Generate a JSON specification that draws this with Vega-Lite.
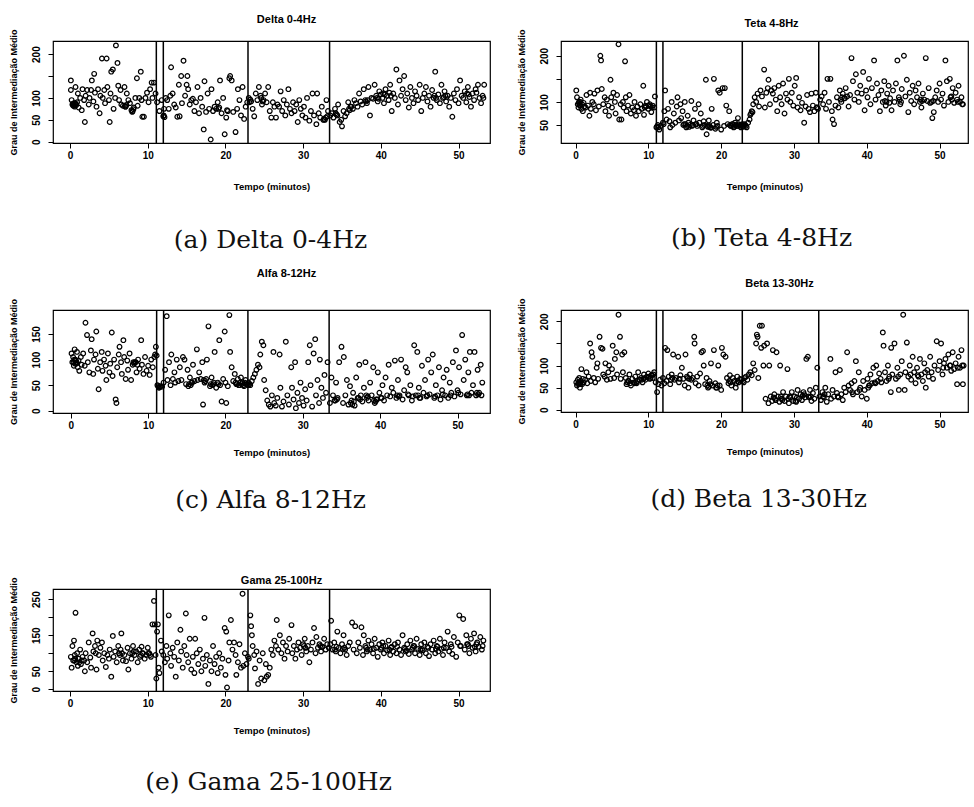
{
  "$schema": "https://vega.github.io/schema/vega-lite/v6.json",
  "background": "white",
  "padding": {"left": 8, "top": 13, "right": 0, "bottom": 0},
  "config": {
    "view": {"stroke": "black", "strokeWidth": 1.2},
    "axis": {"domain": false, "grid": false, "tickColor": "black", "tickSize": 5, "tickWidth": 1, "labelFont": "Liberation Sans", "labelFontSize": 10, "labelFontWeight": "bold", "labelColor": "black", "labelPadding": 2, "labelOverlap": false, "titleFont": "Liberation Sans", "titleFontSize": 9.5, "titleFontWeight": "bold", "titleColor": "black"},
    "axisY": {"labelAngle": -90, "labelPadding": 7, "titlePadding": 13, "titleFontSize": 9},
    "point": {"filled": false, "size": 22, "strokeWidth": 1.2, "color": "black", "opacity": 1},
    "rule": {"color": "black", "strokeWidth": 1.5}
  },
  "datasets": {
    "cuts": [{"t": 11.1}, {"t": 12.0}, {"t": 22.9}, {"t": 33.4}],
    "a": [
      {"t":0.1,"v":140},{"t":0.1,"v":118},{"t":0.2,"v":95},{"t":0.3,"v":85},{"t":0.4,"v":82},{"t":0.5,"v":88},{"t":0.6,"v":80},{"t":0.7,"v":125},{"t":0.8,"v":84},{"t":0.9,"v":90},{"t":1.0,"v":110},{"t":1.1,"v":78},{"t":1.3,"v":100},{"t":1.5,"v":72},{"t":1.6,"v":120},{"t":1.8,"v":95},{"t":1.9,"v":45},{"t":2.0,"v":105},{"t":2.2,"v":118},{"t":2.4,"v":85},{"t":2.5,"v":100},{"t":2.7,"v":118},{"t":2.8,"v":140},{"t":3.0,"v":92},{"t":3.1,"v":155},{"t":3.2,"v":112},{"t":3.4,"v":80},{"t":3.6,"v":120},{"t":3.8,"v":65},{"t":3.9,"v":105},{"t":4.1,"v":190},{"t":4.2,"v":100},{"t":4.4,"v":118},{"t":4.5,"v":88},{"t":4.7,"v":190},{"t":4.8,"v":125},{"t":5.0,"v":95},{"t":5.1,"v":45},{"t":5.2,"v":110},{"t":5.3,"v":160},{"t":5.5,"v":165},{"t":5.6,"v":75},{"t":5.8,"v":100},{"t":5.9,"v":220},{"t":6.1,"v":180},{"t":6.2,"v":128},{"t":6.3,"v":95},{"t":6.5,"v":118},{"t":6.6,"v":85},{"t":6.8,"v":82},{"t":7.0,"v":125},{"t":7.1,"v":80},{"t":7.3,"v":110},{"t":7.5,"v":95},{"t":7.7,"v":88},{"t":7.9,"v":72},{"t":8.0,"v":68},{"t":8.2,"v":78},{"t":8.4,"v":100},{"t":8.6,"v":145},{"t":8.7,"v":82},{"t":8.9,"v":100},{"t":9.1,"v":160},{"t":9.2,"v":95},{"t":9.3,"v":57},{"t":9.5,"v":57},{"t":9.7,"v":100},{"t":9.9,"v":112},{"t":10.1,"v":90},{"t":10.3,"v":120},{"t":10.5,"v":135},{"t":10.6,"v":100},{"t":10.8,"v":135},{"t":11.0,"v":110},{"t":11.2,"v":90},{"t":11.5,"v":70},{"t":11.8,"v":95},
      {"t":12.0,"v":58},{"t":12.1,"v":75},{"t":12.3,"v":100},{"t":12.5,"v":95},{"t":12.7,"v":75},{"t":12.9,"v":105},{"t":13.0,"v":170},{"t":13.2,"v":110},{"t":13.4,"v":85},{"t":13.6,"v":78},{"t":13.8,"v":57},{"t":14.0,"v":130},{"t":14.1,"v":58},{"t":14.3,"v":150},{"t":14.4,"v":88},{"t":14.6,"v":185},{"t":14.8,"v":105},{"t":15.0,"v":130},{"t":15.1,"v":150},{"t":15.2,"v":120},{"t":15.4,"v":85},{"t":15.6,"v":95},{"t":15.8,"v":98},{"t":16.0,"v":70},{"t":16.2,"v":90},{"t":16.4,"v":125},{"t":16.6,"v":65},{"t":16.8,"v":100},{"t":17.0,"v":80},{"t":17.2,"v":28},{"t":17.3,"v":138},{"t":17.5,"v":68},{"t":17.7,"v":110},{"t":17.9,"v":75},{"t":18.1,"v":5},{"t":18.2,"v":120},{"t":18.4,"v":70},{"t":18.6,"v":80},{"t":18.8,"v":75},{"t":19.0,"v":90},{"t":19.3,"v":140},{"t":19.5,"v":65},{"t":19.7,"v":100},{"t":19.9,"v":17},{"t":20.1,"v":55},{"t":20.3,"v":70},{"t":20.5,"v":145},{"t":20.6,"v":150},{"t":20.8,"v":140},{"t":21.0,"v":68},{"t":21.3,"v":22},{"t":21.5,"v":75},{"t":21.6,"v":120},{"t":21.8,"v":95},{"t":22.0,"v":60},{"t":22.2,"v":125},{"t":22.4,"v":52},{"t":22.6,"v":80},{"t":22.8,"v":90},
      {"t":23.0,"v":100},{"t":23.3,"v":92},{"t":23.5,"v":75},{"t":23.7,"v":58},{"t":23.9,"v":110},{"t":24.1,"v":95},{"t":24.3,"v":125},{"t":24.5,"v":105},{"t":24.7,"v":85},{"t":24.9,"v":95},{"t":25.1,"v":110},{"t":25.3,"v":90},{"t":25.5,"v":125},{"t":25.7,"v":70},{"t":25.9,"v":55},{"t":26.1,"v":90},{"t":26.3,"v":80},{"t":26.5,"v":55},{"t":26.7,"v":85},{"t":26.9,"v":80},{"t":27.1,"v":115},{"t":27.3,"v":70},{"t":27.5,"v":95},{"t":27.7,"v":60},{"t":27.9,"v":85},{"t":28.1,"v":120},{"t":28.3,"v":75},{"t":28.5,"v":65},{"t":28.7,"v":90},{"t":28.9,"v":70},{"t":29.1,"v":85},{"t":29.3,"v":45},{"t":29.5,"v":95},{"t":29.7,"v":75},{"t":29.9,"v":60},{"t":30.1,"v":80},{"t":30.3,"v":55},{"t":30.5,"v":100},{"t":30.8,"v":48},{"t":31.0,"v":70},{"t":31.2,"v":110},{"t":31.4,"v":60},{"t":31.7,"v":40},{"t":31.8,"v":110},{"t":32.0,"v":65},{"t":32.2,"v":55},{"t":32.4,"v":80},{"t":32.6,"v":50},{"t":32.8,"v":50},{"t":33.0,"v":95},{"t":33.2,"v":70},
      {"t":33.5,"v":60},{"t":33.7,"v":65},{"t":33.9,"v":55},{"t":34.1,"v":75},{"t":34.3,"v":62},{"t":34.5,"v":85},{"t":34.7,"v":45},{"t":34.9,"v":50},{"t":35.0,"v":35},{"t":35.2,"v":70},{"t":35.4,"v":58},{"t":35.6,"v":65},{"t":35.8,"v":90},{"t":36.0,"v":72},{"t":36.2,"v":80},{"t":36.4,"v":75},{"t":36.6,"v":95},{"t":36.8,"v":88},{"t":37.0,"v":80},{"t":37.2,"v":110},{"t":37.4,"v":92},{"t":37.6,"v":85},{"t":37.8,"v":120},{"t":38.0,"v":95},{"t":38.2,"v":88},{"t":38.4,"v":125},{"t":38.6,"v":60},{"t":38.8,"v":100},{"t":39.0,"v":98},{"t":39.2,"v":130},{"t":39.4,"v":105},{"t":39.6,"v":92},{"t":39.8,"v":115},{"t":40.0,"v":108},{"t":40.2,"v":100},{"t":40.4,"v":88},{"t":40.6,"v":120},{"t":40.8,"v":105},{"t":41.0,"v":95},{"t":41.2,"v":130},{"t":41.4,"v":70},{"t":41.6,"v":110},{"t":41.8,"v":100},{"t":42.0,"v":165},{"t":42.2,"v":85},{"t":42.4,"v":140},{"t":42.6,"v":105},{"t":42.8,"v":120},{"t":43.0,"v":150},{"t":43.2,"v":95},{"t":43.4,"v":110},{"t":43.6,"v":78},{"t":43.8,"v":125},{"t":44.0,"v":100},{"t":44.2,"v":88},{"t":44.4,"v":115},{"t":44.6,"v":105},{"t":44.8,"v":95},{"t":45.0,"v":130},{"t":45.2,"v":70},{"t":45.4,"v":100},{"t":45.6,"v":110},{"t":45.8,"v":125},{"t":46.0,"v":92},{"t":46.2,"v":105},{"t":46.4,"v":80},{"t":46.6,"v":118},{"t":46.8,"v":100},{"t":47.0,"v":160},{"t":47.2,"v":95},{"t":47.4,"v":108},{"t":47.6,"v":88},{"t":47.8,"v":130},{"t":48.0,"v":100},{"t":48.2,"v":115},{"t":48.4,"v":92},{"t":48.6,"v":105},{"t":48.8,"v":80},{"t":49.0,"v":100},{"t":49.2,"v":57},{"t":49.4,"v":110},{"t":49.6,"v":95},{"t":49.8,"v":120},{"t":50.0,"v":88},{"t":50.2,"v":140},{"t":50.4,"v":105},{"t":50.6,"v":100},{"t":50.8,"v":115},{"t":51.0,"v":90},{"t":51.2,"v":125},{"t":51.4,"v":102},{"t":51.6,"v":80},{"t":51.8,"v":110},{"t":52.0,"v":95},{"t":52.2,"v":120},{"t":52.5,"v":130},{"t":52.7,"v":100},{"t":52.9,"v":88},{"t":53.1,"v":105},{"t":53.3,"v":130},
      {"t":0.35,"v":86},{"t":0.45,"v":84},{"t":0.55,"v":82},{"t":0.65,"v":88},{"t":0.75,"v":86},{"t":7.05,"v":82},{"t":7.15,"v":80},{"t":7.25,"v":84},{"t":8.05,"v":70},{"t":8.15,"v":74},{"t":12.05,"v":60},{"t":12.15,"v":56},{"t":19.1,"v":75},{"t":19.2,"v":78},{"t":20.2,"v":72},{"t":23.1,"v":90},{"t":23.2,"v":96},{"t":24.6,"v":100},{"t":24.8,"v":92},{"t":32.7,"v":52},{"t":32.9,"v":55},{"t":33.1,"v":58},{"t":34.2,"v":65},{"t":34.4,"v":60},{"t":35.9,"v":75},{"t":36.1,"v":80},{"t":38.1,"v":92},{"t":38.3,"v":95},{"t":39.5,"v":100},{"t":39.7,"v":98},{"t":40.3,"v":110},{"t":40.5,"v":108},{"t":41.1,"v":112},{"t":41.3,"v":105},{"t":46.9,"v":105},{"t":47.1,"v":100},{"t":48.1,"v":102},{"t":48.3,"v":105},{"t":51.1,"v":110},{"t":51.3,"v":108},{"t":52.3,"v":112},{"t":53.2,"v":100}
    ],
    "b": [
      {"t":0.1,"v":125},{"t":0.2,"v":110},{"t":0.3,"v":95},{"t":0.4,"v":88},{"t":0.5,"v":100},{"t":0.6,"v":92},{"t":0.7,"v":105},{"t":0.8,"v":85},{"t":0.9,"v":95},{"t":1.0,"v":80},{"t":1.1,"v":98},{"t":1.2,"v":90},{"t":1.4,"v":88},{"t":1.5,"v":115},{"t":1.7,"v":92},{"t":1.9,"v":70},{"t":2.0,"v":120},{"t":2.1,"v":85},{"t":2.3,"v":100},{"t":2.5,"v":95},{"t":2.6,"v":118},{"t":2.8,"v":82},{"t":3.0,"v":125},{"t":3.2,"v":90},{"t":3.4,"v":200},{"t":3.5,"v":190},{"t":3.6,"v":128},{"t":3.8,"v":95},{"t":4.0,"v":110},{"t":4.1,"v":80},{"t":4.3,"v":105},{"t":4.5,"v":92},{"t":4.6,"v":70},{"t":4.8,"v":148},{"t":4.9,"v":110},{"t":5.0,"v":88},{"t":5.2,"v":120},{"t":5.4,"v":100},{"t":5.5,"v":75},{"t":5.7,"v":115},{"t":5.9,"v":225},{"t":6.0,"v":62},{"t":6.2,"v":95},{"t":6.3,"v":62},{"t":6.5,"v":100},{"t":6.6,"v":88},{"t":6.8,"v":188},{"t":6.9,"v":110},{"t":7.0,"v":80},{"t":7.2,"v":92},{"t":7.4,"v":115},{"t":7.6,"v":75},{"t":7.8,"v":88},{"t":8.0,"v":82},{"t":8.1,"v":100},{"t":8.3,"v":70},{"t":8.5,"v":90},{"t":8.7,"v":80},{"t":8.9,"v":95},{"t":9.1,"v":85},{"t":9.3,"v":135},{"t":9.4,"v":72},{"t":9.6,"v":92},{"t":9.8,"v":100},{"t":10.0,"v":85},{"t":10.2,"v":95},{"t":10.4,"v":78},{"t":10.6,"v":92},{"t":10.8,"v":88},{"t":10.9,"v":112},
      {"t":11.1,"v":45},{"t":11.3,"v":50},{"t":11.5,"v":40},{"t":11.7,"v":48},
      {"t":12.0,"v":55},{"t":12.2,"v":80},{"t":12.3,"v":125},{"t":12.5,"v":62},{"t":12.7,"v":85},{"t":12.9,"v":58},{"t":13.0,"v":45},{"t":13.2,"v":100},{"t":13.3,"v":50},{"t":13.5,"v":75},{"t":13.7,"v":55},{"t":13.9,"v":90},{"t":14.0,"v":110},{"t":14.2,"v":60},{"t":14.4,"v":95},{"t":14.5,"v":65},{"t":14.7,"v":80},{"t":14.9,"v":52},{"t":15.0,"v":100},{"t":15.2,"v":45},{"t":15.4,"v":70},{"t":15.5,"v":55},{"t":15.7,"v":50},{"t":15.9,"v":102},{"t":16.0,"v":48},{"t":16.2,"v":60},{"t":16.4,"v":85},{"t":16.5,"v":52},{"t":16.7,"v":48},{"t":16.9,"v":95},{"t":17.0,"v":55},{"t":17.2,"v":75},{"t":17.4,"v":45},{"t":17.6,"v":58},{"t":17.9,"v":148},{"t":18.0,"v":30},{"t":18.1,"v":48},{"t":18.3,"v":60},{"t":18.5,"v":45},{"t":18.7,"v":85},{"t":18.9,"v":50},{"t":19.0,"v":150},{"t":19.2,"v":42},{"t":19.4,"v":55},{"t":19.6,"v":125},{"t":19.8,"v":120},{"t":20.0,"v":40},{"t":20.2,"v":130},{"t":20.4,"v":48},{"t":20.5,"v":130},{"t":20.7,"v":92},{"t":20.9,"v":52},{"t":21.1,"v":80},{"t":21.3,"v":48},{"t":21.5,"v":52},{"t":21.7,"v":45},{"t":21.9,"v":55},{"t":22.1,"v":48},{"t":22.3,"v":65},{"t":22.5,"v":50},{"t":22.7,"v":45},{"t":22.9,"v":52},
      {"t":23.1,"v":48},{"t":23.3,"v":50},{"t":23.5,"v":45},{"t":23.7,"v":55},{"t":23.9,"v":62},{"t":24.0,"v":72},{"t":24.2,"v":80},{"t":24.4,"v":95},{"t":24.6,"v":110},{"t":24.8,"v":100},{"t":25.0,"v":118},{"t":25.2,"v":90},{"t":25.4,"v":125},{"t":25.6,"v":112},{"t":25.9,"v":170},{"t":26.0,"v":88},{"t":26.2,"v":120},{"t":26.4,"v":130},{"t":26.5,"v":148},{"t":26.7,"v":95},{"t":26.9,"v":125},{"t":27.1,"v":118},{"t":27.3,"v":130},{"t":27.5,"v":105},{"t":27.7,"v":80},{"t":27.9,"v":135},{"t":28.1,"v":110},{"t":28.3,"v":95},{"t":28.5,"v":140},{"t":28.7,"v":75},{"t":28.9,"v":118},{"t":29.1,"v":105},{"t":29.3,"v":150},{"t":29.5,"v":100},{"t":29.7,"v":120},{"t":29.9,"v":92},{"t":30.1,"v":135},{"t":30.3,"v":152},{"t":30.5,"v":88},{"t":30.7,"v":110},{"t":30.9,"v":82},{"t":31.1,"v":98},{"t":31.4,"v":55},{"t":31.6,"v":90},{"t":31.8,"v":115},{"t":32.0,"v":85},{"t":32.2,"v":78},{"t":32.4,"v":118},{"t":32.6,"v":92},{"t":32.8,"v":80},{"t":33.0,"v":120},{"t":33.2,"v":88},
      {"t":33.6,"v":105},{"t":33.8,"v":112},{"t":34.0,"v":95},{"t":34.2,"v":120},{"t":34.4,"v":85},{"t":34.6,"v":150},{"t":34.8,"v":100},{"t":35.0,"v":150},{"t":35.2,"v":80},{"t":35.3,"v":62},{"t":35.5,"v":52},{"t":35.7,"v":92},{"t":35.9,"v":110},{"t":36.1,"v":88},{"t":36.3,"v":125},{"t":36.5,"v":100},{"t":36.7,"v":118},{"t":36.9,"v":108},{"t":37.1,"v":130},{"t":37.3,"v":112},{"t":37.5,"v":90},{"t":37.7,"v":115},{"t":37.9,"v":195},{"t":38.1,"v":145},{"t":38.3,"v":105},{"t":38.5,"v":160},{"t":38.7,"v":120},{"t":38.9,"v":100},{"t":39.1,"v":135},{"t":39.3,"v":118},{"t":39.5,"v":165},{"t":39.7,"v":82},{"t":39.9,"v":125},{"t":40.1,"v":110},{"t":40.3,"v":150},{"t":40.5,"v":95},{"t":40.7,"v":130},{"t":41.0,"v":190},{"t":41.2,"v":105},{"t":41.4,"v":140},{"t":41.6,"v":115},{"t":41.8,"v":80},{"t":42.0,"v":125},{"t":42.2,"v":100},{"t":42.4,"v":145},{"t":42.6,"v":92},{"t":42.8,"v":118},{"t":43.0,"v":135},{"t":43.2,"v":108},{"t":43.4,"v":82},{"t":43.6,"v":125},{"t":43.8,"v":100},{"t":44.0,"v":140},{"t":44.2,"v":190},{"t":44.4,"v":110},{"t":44.6,"v":95},{"t":44.8,"v":128},{"t":45.1,"v":200},{"t":45.3,"v":112},{"t":45.5,"v":148},{"t":45.7,"v":78},{"t":45.9,"v":120},{"t":46.1,"v":102},{"t":46.3,"v":135},{"t":46.5,"v":95},{"t":46.7,"v":125},{"t":46.9,"v":110},{"t":47.1,"v":140},{"t":47.3,"v":100},{"t":47.5,"v":88},{"t":47.7,"v":118},{"t":47.9,"v":105},{"t":48.1,"v":195},{"t":48.3,"v":102},{"t":48.5,"v":130},{"t":48.7,"v":98},{"t":49.0,"v":65},{"t":49.2,"v":78},{"t":49.4,"v":110},{"t":49.6,"v":125},{"t":49.8,"v":100},{"t":50.0,"v":140},{"t":50.2,"v":105},{"t":50.4,"v":118},{"t":50.6,"v":92},{"t":50.8,"v":190},{"t":51.0,"v":145},{"t":51.2,"v":100},{"t":51.4,"v":150},{"t":51.6,"v":112},{"t":51.8,"v":130},{"t":52.0,"v":98},{"t":52.2,"v":120},{"t":52.4,"v":105},{"t":52.6,"v":135},{"t":52.8,"v":100},{"t":53.0,"v":110},{"t":53.2,"v":95},
      {"t":0.45,"v":98},{"t":0.55,"v":94},{"t":0.65,"v":100},{"t":9.5,"v":88},{"t":9.7,"v":90},{"t":10.1,"v":92},{"t":10.3,"v":90},{"t":10.5,"v":88},{"t":11.2,"v":47},{"t":11.4,"v":45},{"t":12.1,"v":52},{"t":14.8,"v":50},{"t":15.1,"v":52},{"t":15.3,"v":48},{"t":15.6,"v":46},{"t":16.1,"v":50},{"t":16.6,"v":52},{"t":17.5,"v":48},{"t":17.7,"v":50},{"t":18.2,"v":46},{"t":18.4,"v":48},{"t":18.6,"v":44},{"t":19.3,"v":46},{"t":19.5,"v":48},{"t":21.2,"v":50},{"t":21.4,"v":48},{"t":21.6,"v":52},{"t":21.8,"v":46},{"t":22.0,"v":50},{"t":22.2,"v":48},{"t":22.4,"v":52},{"t":22.6,"v":48},{"t":22.8,"v":50},{"t":23.0,"v":46},{"t":23.2,"v":52},{"t":23.4,"v":48},{"t":24.1,"v":75},{"t":24.3,"v":78},{"t":33.1,"v":88},{"t":33.3,"v":85},{"t":36.4,"v":105},{"t":36.6,"v":110},{"t":37.0,"v":108},{"t":42.5,"v":102},{"t":42.7,"v":100},{"t":43.1,"v":98},{"t":44.5,"v":105},{"t":44.7,"v":100},{"t":47.4,"v":105},{"t":47.6,"v":102},{"t":48.9,"v":100},{"t":49.1,"v":102},{"t":51.5,"v":110},{"t":51.7,"v":105},{"t":52.5,"v":100},{"t":53.1,"v":95}
    ],
    "c": [
      {"t":0.1,"v":112},{"t":0.2,"v":95},{"t":0.3,"v":105},{"t":0.4,"v":88},{"t":0.5,"v":120},{"t":0.6,"v":100},{"t":0.7,"v":92},{"t":0.8,"v":115},{"t":0.9,"v":85},{"t":1.0,"v":98},{"t":1.1,"v":78},{"t":1.3,"v":105},{"t":1.4,"v":90},{"t":1.6,"v":112},{"t":1.8,"v":88},{"t":1.9,"v":172},{"t":2.1,"v":148},{"t":2.2,"v":95},{"t":2.4,"v":75},{"t":2.6,"v":118},{"t":2.7,"v":140},{"t":2.9,"v":72},{"t":3.0,"v":100},{"t":3.2,"v":110},{"t":3.3,"v":155},{"t":3.5,"v":82},{"t":3.6,"v":42},{"t":3.8,"v":95},{"t":4.0,"v":115},{"t":4.1,"v":78},{"t":4.3,"v":100},{"t":4.5,"v":88},{"t":4.6,"v":60},{"t":4.8,"v":112},{"t":5.0,"v":75},{"t":5.1,"v":92},{"t":5.3,"v":153},{"t":5.4,"v":68},{"t":5.6,"v":100},{"t":5.8,"v":22},{"t":5.9,"v":15},{"t":6.0,"v":85},{"t":6.2,"v":110},{"t":6.3,"v":125},{"t":6.5,"v":95},{"t":6.6,"v":72},{"t":6.8,"v":138},{"t":6.9,"v":105},{"t":7.1,"v":62},{"t":7.3,"v":98},{"t":7.4,"v":80},{"t":7.6,"v":112},{"t":7.8,"v":60},{"t":8.0,"v":90},{"t":8.1,"v":95},{"t":8.3,"v":95},{"t":8.5,"v":75},{"t":8.7,"v":100},{"t":8.9,"v":82},{"t":9.1,"v":138},{"t":9.2,"v":90},{"t":9.4,"v":72},{"t":9.6,"v":105},{"t":9.8,"v":78},{"t":10.0,"v":88},{"t":10.2,"v":70},{"t":10.4,"v":100},{"t":10.6,"v":85},{"t":10.8,"v":105},{"t":10.9,"v":110},
      {"t":11.0,"v":125},{"t":11.1,"v":108},{"t":11.2,"v":50},{"t":11.4,"v":45},{"t":11.6,"v":48},{"t":11.8,"v":47},
      {"t":12.0,"v":55},{"t":12.2,"v":80},{"t":12.4,"v":185},{"t":12.5,"v":60},{"t":12.7,"v":95},{"t":12.9,"v":50},{"t":13.0,"v":110},{"t":13.2,"v":62},{"t":13.4,"v":75},{"t":13.5,"v":55},{"t":13.7,"v":100},{"t":13.9,"v":58},{"t":14.1,"v":85},{"t":14.3,"v":60},{"t":14.5,"v":105},{"t":14.7,"v":100},{"t":14.9,"v":52},{"t":15.1,"v":80},{"t":15.2,"v":48},{"t":15.4,"v":65},{"t":15.6,"v":55},{"t":15.8,"v":90},{"t":16.0,"v":58},{"t":16.3,"v":120},{"t":16.4,"v":60},{"t":16.6,"v":75},{"t":16.8,"v":62},{"t":17.0,"v":95},{"t":17.1,"v":12},{"t":17.3,"v":55},{"t":17.5,"v":62},{"t":17.6,"v":100},{"t":17.8,"v":165},{"t":18.0,"v":48},{"t":18.2,"v":65},{"t":18.4,"v":52},{"t":18.6,"v":115},{"t":18.8,"v":45},{"t":19.0,"v":55},{"t":19.2,"v":138},{"t":19.3,"v":50},{"t":19.5,"v":18},{"t":19.7,"v":62},{"t":19.9,"v":155},{"t":20.0,"v":55},{"t":20.1,"v":15},{"t":20.3,"v":48},{"t":20.5,"v":187},{"t":20.6,"v":115},{"t":20.8,"v":85},{"t":21.0,"v":58},{"t":21.2,"v":72},{"t":21.4,"v":52},{"t":21.6,"v":62},{"t":21.8,"v":50},{"t":22.0,"v":65},{"t":22.2,"v":55},{"t":22.4,"v":48},{"t":22.6,"v":60},{"t":22.8,"v":52},
      {"t":23.0,"v":55},{"t":23.2,"v":50},{"t":23.4,"v":58},{"t":23.6,"v":65},{"t":23.8,"v":72},{"t":24.0,"v":80},{"t":24.2,"v":90},{"t":24.4,"v":85},{"t":24.5,"v":110},{"t":24.7,"v":135},{"t":24.9,"v":128},{"t":25.0,"v":60},{"t":25.2,"v":40},{"t":25.4,"v":20},{"t":25.6,"v":12},{"t":25.8,"v":8},{"t":26.0,"v":30},{"t":26.2,"v":115},{"t":26.3,"v":15},{"t":26.5,"v":10},{"t":26.7,"v":25},{"t":27.0,"v":110},{"t":27.1,"v":45},{"t":27.3,"v":8},{"t":27.5,"v":18},{"t":27.8,"v":135},{"t":28.0,"v":30},{"t":28.2,"v":12},{"t":28.5,"v":85},{"t":28.6,"v":45},{"t":28.8,"v":22},{"t":29.0,"v":95},{"t":29.1,"v":5},{"t":29.3,"v":35},{"t":29.5,"v":15},{"t":29.7,"v":55},{"t":29.9,"v":25},{"t":30.1,"v":10},{"t":30.3,"v":42},{"t":30.5,"v":20},{"t":30.7,"v":95},{"t":30.9,"v":128},{"t":31.0,"v":50},{"t":31.2,"v":8},{"t":31.4,"v":112},{"t":31.6,"v":140},{"t":31.7,"v":30},{"t":31.9,"v":60},{"t":32.1,"v":15},{"t":32.2,"v":100},{"t":32.4,"v":45},{"t":32.6,"v":25},{"t":32.8,"v":70},{"t":33.0,"v":35},{"t":33.2,"v":95},
      {"t":33.5,"v":15},{"t":33.7,"v":65},{"t":33.9,"v":30},{"t":34.1,"v":20},{"t":34.3,"v":55},{"t":34.5,"v":25},{"t":34.7,"v":95},{"t":35.0,"v":125},{"t":35.2,"v":15},{"t":35.3,"v":105},{"t":35.5,"v":30},{"t":35.7,"v":60},{"t":35.9,"v":12},{"t":36.1,"v":48},{"t":36.3,"v":20},{"t":36.5,"v":35},{"t":36.7,"v":10},{"t":36.9,"v":65},{"t":37.1,"v":25},{"t":37.3,"v":90},{"t":37.5,"v":30},{"t":37.7,"v":18},{"t":37.9,"v":45},{"t":38.1,"v":95},{"t":38.3,"v":25},{"t":38.5,"v":20},{"t":38.7,"v":55},{"t":38.9,"v":30},{"t":39.1,"v":85},{"t":39.3,"v":15},{"t":39.5,"v":22},{"t":39.7,"v":75},{"t":39.9,"v":35},{"t":40.1,"v":25},{"t":40.3,"v":50},{"t":40.5,"v":20},{"t":40.7,"v":65},{"t":40.9,"v":30},{"t":41.1,"v":90},{"t":41.3,"v":28},{"t":41.5,"v":45},{"t":41.7,"v":35},{"t":41.9,"v":98},{"t":42.1,"v":25},{"t":42.3,"v":60},{"t":42.5,"v":30},{"t":42.7,"v":100},{"t":42.9,"v":22},{"t":43.1,"v":40},{"t":43.3,"v":85},{"t":43.5,"v":75},{"t":43.7,"v":30},{"t":43.9,"v":50},{"t":44.1,"v":20},{"t":44.4,"v":128},{"t":44.6,"v":30},{"t":44.8,"v":115},{"t":45.0,"v":45},{"t":45.2,"v":25},{"t":45.4,"v":88},{"t":45.6,"v":35},{"t":45.8,"v":60},{"t":46.0,"v":28},{"t":46.2,"v":100},{"t":46.4,"v":32},{"t":46.6,"v":75},{"t":46.8,"v":110},{"t":47.0,"v":25},{"t":47.2,"v":50},{"t":47.4,"v":30},{"t":47.6,"v":85},{"t":47.8,"v":22},{"t":48.0,"v":40},{"t":48.2,"v":65},{"t":48.4,"v":30},{"t":48.6,"v":80},{"t":48.8,"v":25},{"t":49.0,"v":55},{"t":49.2,"v":35},{"t":49.4,"v":95},{"t":49.6,"v":28},{"t":49.8,"v":118},{"t":50.0,"v":40},{"t":50.2,"v":85},{"t":50.4,"v":32},{"t":50.6,"v":148},{"t":50.8,"v":60},{"t":51.0,"v":100},{"t":51.2,"v":30},{"t":51.4,"v":75},{"t":51.6,"v":115},{"t":51.8,"v":35},{"t":52.0,"v":50},{"t":52.2,"v":115},{"t":52.4,"v":30},{"t":52.6,"v":80},{"t":52.8,"v":35},{"t":53.0,"v":90},{"t":53.2,"v":55},
      {"t":0.35,"v":95},{"t":0.45,"v":100},{"t":0.55,"v":92},{"t":0.65,"v":98},{"t":0.75,"v":95},{"t":8.2,"v":92},{"t":8.4,"v":95},{"t":8.6,"v":90},{"t":11.3,"v":48},{"t":11.5,"v":46},{"t":15.3,"v":52},{"t":15.5,"v":50},{"t":15.7,"v":55},{"t":17.2,"v":60},{"t":17.4,"v":58},{"t":18.1,"v":52},{"t":18.3,"v":50},{"t":18.5,"v":55},{"t":19.1,"v":52},{"t":21.3,"v":55},{"t":21.5,"v":52},{"t":21.7,"v":50},{"t":21.9,"v":55},{"t":22.1,"v":52},{"t":22.3,"v":50},{"t":22.5,"v":55},{"t":22.7,"v":52},{"t":22.9,"v":50},{"t":23.1,"v":52},{"t":34.2,"v":20},{"t":34.4,"v":22},{"t":36.2,"v":15},{"t":36.4,"v":12},{"t":36.6,"v":18},{"t":37.2,"v":25},{"t":37.4,"v":22},{"t":38.2,"v":30},{"t":38.4,"v":28},{"t":39.2,"v":20},{"t":39.4,"v":18},{"t":39.6,"v":22},{"t":40.2,"v":25},{"t":42.2,"v":30},{"t":42.4,"v":28},{"t":43.6,"v":32},{"t":44.2,"v":28},{"t":44.9,"v":30},{"t":45.1,"v":25},{"t":46.1,"v":30},{"t":47.1,"v":28},{"t":48.1,"v":32},{"t":49.1,"v":30},{"t":50.1,"v":35},{"t":51.3,"v":32},{"t":51.5,"v":30},{"t":52.5,"v":35},{"t":52.7,"v":32},{"t":53.1,"v":30}
    ],
    "d": [
      {"t":0.1,"v":62},{"t":0.2,"v":55},{"t":0.3,"v":68},{"t":0.4,"v":60},{"t":0.5,"v":72},{"t":0.6,"v":50},{"t":0.7,"v":65},{"t":0.8,"v":92},{"t":0.9,"v":58},{"t":1.0,"v":70},{"t":1.1,"v":62},{"t":1.3,"v":68},{"t":1.5,"v":85},{"t":1.6,"v":60},{"t":1.8,"v":75},{"t":2.0,"v":150},{"t":2.1,"v":65},{"t":2.2,"v":130},{"t":2.3,"v":120},{"t":2.5,"v":72},{"t":2.7,"v":62},{"t":2.9,"v":95},{"t":3.0,"v":105},{"t":3.1,"v":70},{"t":3.3,"v":165},{"t":3.5,"v":140},{"t":3.7,"v":138},{"t":3.8,"v":80},{"t":4.0,"v":75},{"t":4.1,"v":105},{"t":4.3,"v":68},{"t":4.5,"v":85},{"t":4.6,"v":100},{"t":4.8,"v":70},{"t":5.0,"v":92},{"t":5.1,"v":145},{"t":5.3,"v":72},{"t":5.4,"v":115},{"t":5.6,"v":130},{"t":5.7,"v":80},{"t":5.9,"v":215},{"t":6.1,"v":165},{"t":6.2,"v":70},{"t":6.4,"v":125},{"t":6.5,"v":85},{"t":6.7,"v":130},{"t":6.9,"v":72},{"t":7.0,"v":58},{"t":7.2,"v":65},{"t":7.4,"v":80},{"t":7.6,"v":55},{"t":7.8,"v":70},{"t":8.0,"v":62},{"t":8.2,"v":75},{"t":8.4,"v":60},{"t":8.6,"v":85},{"t":8.8,"v":68},{"t":9.0,"v":72},{"t":9.2,"v":62},{"t":9.4,"v":80},{"t":9.6,"v":68},{"t":9.8,"v":75},{"t":10.0,"v":82},{"t":10.2,"v":70},{"t":10.4,"v":78},{"t":10.6,"v":72},{"t":10.8,"v":85},
      {"t":11.0,"v":62},{"t":11.2,"v":40},{"t":11.4,"v":58},{"t":11.6,"v":68},{"t":11.8,"v":55},
      {"t":12.0,"v":72},{"t":12.2,"v":60},{"t":12.3,"v":140},{"t":12.5,"v":65},{"t":12.6,"v":135},{"t":12.8,"v":75},{"t":13.0,"v":58},{"t":13.2,"v":80},{"t":13.4,"v":125},{"t":13.6,"v":68},{"t":13.8,"v":72},{"t":14.1,"v":120},{"t":14.2,"v":62},{"t":14.4,"v":78},{"t":14.6,"v":95},{"t":14.8,"v":70},{"t":15.0,"v":55},{"t":15.1,"v":125},{"t":15.3,"v":75},{"t":15.5,"v":50},{"t":15.7,"v":80},{"t":15.9,"v":68},{"t":16.1,"v":72},{"t":16.3,"v":165},{"t":16.35,"v":150},{"t":16.5,"v":60},{"t":16.7,"v":75},{"t":16.9,"v":55},{"t":17.1,"v":82},{"t":17.3,"v":130},{"t":17.5,"v":133},{"t":17.6,"v":100},{"t":17.8,"v":58},{"t":18.0,"v":72},{"t":18.2,"v":50},{"t":18.4,"v":65},{"t":18.6,"v":105},{"t":18.8,"v":55},{"t":19.0,"v":135},{"t":19.2,"v":60},{"t":19.4,"v":50},{"t":19.6,"v":100},{"t":19.8,"v":55},{"t":20.0,"v":45},{"t":20.1,"v":140},{"t":20.3,"v":125},{"t":20.6,"v":120},{"t":20.8,"v":72},{"t":21.0,"v":60},{"t":21.2,"v":78},{"t":21.4,"v":55},{"t":21.6,"v":72},{"t":21.8,"v":65},{"t":22.0,"v":50},{"t":22.2,"v":75},{"t":22.4,"v":62},{"t":22.6,"v":70},{"t":22.8,"v":68},
      {"t":23.0,"v":65},{"t":23.2,"v":72},{"t":23.4,"v":75},{"t":23.6,"v":68},{"t":23.8,"v":80},{"t":24.0,"v":85},{"t":24.2,"v":78},{"t":24.4,"v":105},{"t":24.6,"v":90},{"t":24.8,"v":150},{"t":24.9,"v":170},{"t":25.0,"v":165},{"t":25.1,"v":72},{"t":25.3,"v":190},{"t":25.5,"v":140},{"t":25.6,"v":190},{"t":25.8,"v":100},{"t":25.9,"v":145},{"t":26.1,"v":25},{"t":26.3,"v":150},{"t":26.5,"v":15},{"t":26.6,"v":100},{"t":26.8,"v":30},{"t":27.0,"v":20},{"t":27.1,"v":135},{"t":27.3,"v":35},{"t":27.5,"v":22},{"t":27.6,"v":130},{"t":27.8,"v":30},{"t":28.0,"v":18},{"t":28.1,"v":100},{"t":28.3,"v":25},{"t":28.5,"v":40},{"t":28.7,"v":20},{"t":28.9,"v":30},{"t":29.1,"v":92},{"t":29.3,"v":15},{"t":29.5,"v":28},{"t":29.7,"v":40},{"t":29.9,"v":20},{"t":30.1,"v":30},{"t":30.3,"v":18},{"t":30.5,"v":45},{"t":30.7,"v":25},{"t":30.9,"v":35},{"t":31.1,"v":22},{"t":31.3,"v":40},{"t":31.5,"v":28},{"t":31.7,"v":115},{"t":31.9,"v":120},{"t":32.0,"v":30},{"t":32.2,"v":45},{"t":32.4,"v":20},{"t":32.6,"v":38},{"t":32.8,"v":25},{"t":33.0,"v":50},{"t":33.2,"v":95},
      {"t":33.5,"v":30},{"t":33.7,"v":22},{"t":33.9,"v":40},{"t":34.1,"v":28},{"t":34.3,"v":50},{"t":34.5,"v":18},{"t":34.7,"v":35},{"t":35.0,"v":115},{"t":35.1,"v":25},{"t":35.3,"v":45},{"t":35.5,"v":30},{"t":35.7,"v":85},{"t":35.9,"v":38},{"t":36.1,"v":28},{"t":36.3,"v":90},{"t":36.5,"v":35},{"t":36.7,"v":22},{"t":36.9,"v":50},{"t":37.1,"v":40},{"t":37.3,"v":130},{"t":37.5,"v":55},{"t":37.7,"v":45},{"t":37.9,"v":60},{"t":38.1,"v":35},{"t":38.3,"v":65},{"t":38.5,"v":110},{"t":38.7,"v":40},{"t":38.9,"v":85},{"t":39.1,"v":50},{"t":39.3,"v":30},{"t":39.5,"v":65},{"t":39.7,"v":45},{"t":40.0,"v":25},{"t":40.1,"v":70},{"t":40.3,"v":55},{"t":40.5,"v":80},{"t":40.7,"v":60},{"t":40.9,"v":95},{"t":41.1,"v":62},{"t":41.3,"v":100},{"t":41.5,"v":65},{"t":41.7,"v":82},{"t":41.9,"v":70},{"t":42.2,"v":175},{"t":42.3,"v":145},{"t":42.5,"v":85},{"t":42.7,"v":65},{"t":42.9,"v":100},{"t":43.1,"v":75},{"t":43.3,"v":40},{"t":43.35,"v":140},{"t":43.5,"v":80},{"t":43.8,"v":150},{"t":44.0,"v":70},{"t":44.2,"v":95},{"t":44.4,"v":45},{"t":44.6,"v":80},{"t":44.8,"v":110},{"t":45.0,"v":215},{"t":45.2,"v":45},{"t":45.3,"v":85},{"t":45.5,"v":152},{"t":45.7,"v":75},{"t":45.9,"v":100},{"t":46.1,"v":68},{"t":46.3,"v":120},{"t":46.5,"v":85},{"t":46.7,"v":60},{"t":46.9,"v":95},{"t":47.1,"v":75},{"t":47.3,"v":115},{"t":47.5,"v":80},{"t":47.7,"v":65},{"t":47.9,"v":105},{"t":48.1,"v":50},{"t":48.3,"v":90},{"t":48.5,"v":75},{"t":48.7,"v":120},{"t":48.9,"v":85},{"t":49.1,"v":70},{"t":49.3,"v":100},{"t":49.6,"v":155},{"t":49.8,"v":90},{"t":50.0,"v":110},{"t":50.2,"v":150},{"t":50.4,"v":80},{"t":50.6,"v":105},{"t":50.8,"v":115},{"t":51.0,"v":95},{"t":51.2,"v":125},{"t":51.4,"v":100},{"t":51.6,"v":88},{"t":51.8,"v":130},{"t":52.0,"v":92},{"t":52.2,"v":105},{"t":52.4,"v":58},{"t":52.6,"v":120},{"t":52.8,"v":95},{"t":53.0,"v":135},{"t":53.2,"v":58},{"t":53.3,"v":100},
      {"t":0.35,"v":58},{"t":0.45,"v":62},{"t":0.55,"v":60},{"t":0.65,"v":58},{"t":7.1,"v":62},{"t":7.3,"v":65},{"t":7.5,"v":60},{"t":8.1,"v":60},{"t":8.3,"v":62},{"t":8.5,"v":65},{"t":9.1,"v":68},{"t":9.3,"v":70},{"t":9.5,"v":72},{"t":10.1,"v":75},{"t":10.3,"v":72},{"t":10.5,"v":78},{"t":10.7,"v":80},{"t":13.1,"v":68},{"t":13.3,"v":72},{"t":14.3,"v":70},{"t":15.4,"v":72},{"t":15.6,"v":70},{"t":18.1,"v":55},{"t":18.3,"v":52},{"t":18.5,"v":58},{"t":19.3,"v":50},{"t":19.5,"v":55},{"t":21.1,"v":65},{"t":21.3,"v":62},{"t":22.1,"v":60},{"t":22.3,"v":65},{"t":23.1,"v":62},{"t":27.2,"v":28},{"t":27.4,"v":25},{"t":28.2,"v":30},{"t":28.4,"v":22},{"t":29.2,"v":25},{"t":29.4,"v":30},{"t":30.2,"v":20},{"t":30.4,"v":28},{"t":31.2,"v":32},{"t":31.4,"v":35},{"t":32.1,"v":28},{"t":32.3,"v":30},{"t":34.0,"v":30},{"t":34.2,"v":35},{"t":36.0,"v":30},{"t":38.0,"v":40},{"t":39.0,"v":45},{"t":40.2,"v":50},{"t":40.4,"v":55},{"t":41.2,"v":60},{"t":42.0,"v":62},{"t":43.0,"v":70},{"t":44.3,"v":75},{"t":46.0,"v":80},{"t":47.0,"v":78},{"t":48.0,"v":85},{"t":50.5,"v":95},{"t":51.5,"v":100},{"t":52.5,"v":95},{"t":53.1,"v":100}
    ],
    "e": [
      {"t":0.1,"v":90},{"t":0.2,"v":60},{"t":0.3,"v":120},{"t":0.4,"v":80},{"t":0.5,"v":135},{"t":0.6,"v":95},{"t":0.7,"v":212},{"t":0.8,"v":75},{"t":0.9,"v":100},{"t":1.0,"v":65},{"t":1.1,"v":85},{"t":1.3,"v":110},{"t":1.4,"v":70},{"t":1.6,"v":90},{"t":1.8,"v":80},{"t":1.9,"v":50},{"t":2.0,"v":100},{"t":2.2,"v":75},{"t":2.4,"v":130},{"t":2.6,"v":88},{"t":2.7,"v":60},{"t":2.9,"v":155},{"t":3.0,"v":105},{"t":3.2,"v":120},{"t":3.4,"v":55},{"t":3.5,"v":135},{"t":3.7,"v":95},{"t":3.9,"v":115},{"t":4.1,"v":130},{"t":4.2,"v":80},{"t":4.4,"v":100},{"t":4.6,"v":62},{"t":4.8,"v":95},{"t":5.0,"v":85},{"t":5.1,"v":110},{"t":5.3,"v":35},{"t":5.5,"v":148},{"t":5.6,"v":90},{"t":5.8,"v":105},{"t":6.0,"v":75},{"t":6.2,"v":120},{"t":6.3,"v":100},{"t":6.5,"v":110},{"t":6.6,"v":155},{"t":6.8,"v":80},{"t":7.0,"v":95},{"t":7.2,"v":78},{"t":7.4,"v":115},{"t":7.5,"v":55},{"t":7.7,"v":100},{"t":7.9,"v":85},{"t":8.1,"v":120},{"t":8.3,"v":95},{"t":8.5,"v":105},{"t":8.7,"v":75},{"t":8.9,"v":110},{"t":9.0,"v":90},{"t":9.2,"v":118},{"t":9.4,"v":100},{"t":9.6,"v":85},{"t":9.8,"v":95},{"t":10.0,"v":115},{"t":10.2,"v":100},{"t":10.4,"v":90},{"t":10.6,"v":180},{"t":10.8,"v":245},{"t":10.9,"v":180},
      {"t":11.0,"v":95},{"t":11.1,"v":30},{"t":11.2,"v":160},{"t":11.3,"v":180},{"t":11.4,"v":60},{"t":11.5,"v":45},{"t":11.7,"v":135},{"t":11.8,"v":105},
      {"t":12.0,"v":95},{"t":12.2,"v":75},{"t":12.4,"v":120},{"t":12.5,"v":85},{"t":12.7,"v":205},{"t":12.9,"v":100},{"t":13.0,"v":65},{"t":13.2,"v":115},{"t":13.4,"v":90},{"t":13.6,"v":35},{"t":13.8,"v":130},{"t":14.0,"v":80},{"t":14.2,"v":165},{"t":14.3,"v":105},{"t":14.5,"v":60},{"t":14.7,"v":120},{"t":14.9,"v":210},{"t":15.0,"v":95},{"t":15.2,"v":75},{"t":15.4,"v":140},{"t":15.6,"v":55},{"t":15.8,"v":90},{"t":16.0,"v":45},{"t":16.1,"v":140},{"t":16.3,"v":100},{"t":16.5,"v":70},{"t":16.7,"v":110},{"t":16.9,"v":50},{"t":17.1,"v":85},{"t":17.3,"v":198},{"t":17.4,"v":65},{"t":17.6,"v":95},{"t":17.8,"v":15},{"t":18.0,"v":80},{"t":18.2,"v":50},{"t":18.4,"v":120},{"t":18.6,"v":70},{"t":18.8,"v":90},{"t":19.0,"v":45},{"t":19.2,"v":100},{"t":19.4,"v":60},{"t":19.6,"v":85},{"t":19.9,"v":170},{"t":20.0,"v":40},{"t":20.1,"v":160},{"t":20.2,"v":5},{"t":20.4,"v":80},{"t":20.5,"v":130},{"t":20.7,"v":192},{"t":20.9,"v":110},{"t":21.1,"v":130},{"t":21.3,"v":95},{"t":21.4,"v":40},{"t":21.6,"v":75},{"t":21.8,"v":125},{"t":22.0,"v":60},{"t":22.2,"v":265},{"t":22.3,"v":65},{"t":22.5,"v":100},{"t":22.7,"v":70},{"t":22.9,"v":90},
      {"t":23.0,"v":85},{"t":23.2,"v":205},{"t":23.3,"v":175},{"t":23.4,"v":150},{"t":23.5,"v":120},{"t":23.7,"v":95},{"t":23.8,"v":58},{"t":24.0,"v":105},{"t":24.2,"v":15},{"t":24.4,"v":80},{"t":24.6,"v":30},{"t":24.8,"v":100},{"t":25.0,"v":25},{"t":25.2,"v":70},{"t":25.3,"v":35},{"t":25.5,"v":40},{"t":25.7,"v":60},{"t":25.9,"v":110},{"t":26.1,"v":95},{"t":26.3,"v":135},{"t":26.5,"v":120},{"t":26.6,"v":192},{"t":26.8,"v":110},{"t":27.0,"v":150},{"t":27.2,"v":100},{"t":27.4,"v":130},{"t":27.6,"v":85},{"t":27.8,"v":120},{"t":28.0,"v":105},{"t":28.2,"v":140},{"t":28.5,"v":178},{"t":28.6,"v":100},{"t":28.8,"v":120},{"t":29.0,"v":85},{"t":29.2,"v":110},{"t":29.4,"v":130},{"t":29.6,"v":115},{"t":29.8,"v":95},{"t":30.0,"v":125},{"t":30.2,"v":140},{"t":30.4,"v":105},{"t":30.6,"v":120},{"t":30.8,"v":75},{"t":31.0,"v":110},{"t":31.2,"v":130},{"t":31.4,"v":170},{"t":31.6,"v":100},{"t":31.7,"v":145},{"t":31.9,"v":115},{"t":32.1,"v":125},{"t":32.3,"v":105},{"t":32.5,"v":118},{"t":32.7,"v":140},{"t":32.9,"v":110},{"t":33.1,"v":125},{"t":33.3,"v":115},
      {"t":33.5,"v":125},{"t":33.6,"v":190},{"t":33.8,"v":110},{"t":34.0,"v":130},{"t":34.2,"v":105},{"t":34.4,"v":160},{"t":34.6,"v":115},{"t":34.8,"v":100},{"t":35.0,"v":125},{"t":35.2,"v":150},{"t":35.4,"v":110},{"t":35.6,"v":95},{"t":35.8,"v":120},{"t":36.0,"v":130},{"t":36.3,"v":185},{"t":36.5,"v":110},{"t":36.7,"v":175},{"t":36.9,"v":100},{"t":37.1,"v":130},{"t":37.3,"v":115},{"t":37.5,"v":172},{"t":37.7,"v":95},{"t":37.8,"v":150},{"t":38.0,"v":120},{"t":38.2,"v":105},{"t":38.4,"v":135},{"t":38.6,"v":110},{"t":38.8,"v":125},{"t":39.0,"v":100},{"t":39.2,"v":140},{"t":39.4,"v":115},{"t":39.6,"v":90},{"t":39.8,"v":125},{"t":40.0,"v":110},{"t":40.2,"v":130},{"t":40.4,"v":100},{"t":40.6,"v":120},{"t":40.8,"v":108},{"t":41.0,"v":135},{"t":41.2,"v":95},{"t":41.4,"v":118},{"t":41.6,"v":105},{"t":41.8,"v":125},{"t":42.0,"v":100},{"t":42.2,"v":130},{"t":42.4,"v":110},{"t":42.6,"v":95},{"t":42.8,"v":150},{"t":43.0,"v":115},{"t":43.2,"v":105},{"t":43.4,"v":125},{"t":43.6,"v":98},{"t":43.8,"v":135},{"t":44.0,"v":110},{"t":44.2,"v":120},{"t":44.4,"v":100},{"t":44.6,"v":140},{"t":44.8,"v":112},{"t":45.0,"v":95},{"t":45.2,"v":125},{"t":45.4,"v":108},{"t":45.6,"v":130},{"t":45.8,"v":100},{"t":46.0,"v":118},{"t":46.2,"v":92},{"t":46.4,"v":125},{"t":46.6,"v":110},{"t":46.8,"v":135},{"t":47.0,"v":100},{"t":47.2,"v":120},{"t":47.4,"v":105},{"t":47.6,"v":140},{"t":47.8,"v":112},{"t":48.0,"v":95},{"t":48.2,"v":130},{"t":48.4,"v":115},{"t":48.6,"v":160},{"t":48.8,"v":105},{"t":49.0,"v":125},{"t":49.2,"v":98},{"t":49.4,"v":145},{"t":49.7,"v":90},{"t":49.9,"v":130},{"t":50.1,"v":205},{"t":50.3,"v":120},{"t":50.6,"v":195},{"t":50.8,"v":110},{"t":51.0,"v":150},{"t":51.2,"v":125},{"t":51.4,"v":100},{"t":51.6,"v":140},{"t":51.8,"v":115},{"t":52.0,"v":155},{"t":52.2,"v":105},{"t":52.4,"v":130},{"t":52.6,"v":118},{"t":52.8,"v":145},{"t":53.0,"v":110},{"t":53.2,"v":135},
      {"t":0.55,"v":80},{"t":0.65,"v":85},{"t":1.2,"v":75},{"t":1.5,"v":80},{"t":3.3,"v":100},{"t":6.4,"v":95},{"t":6.7,"v":100},{"t":8.0,"v":100},{"t":8.2,"v":105},{"t":9.1,"v":95},{"t":9.3,"v":100},{"t":10.1,"v":100},{"t":10.3,"v":95},{"t":30.1,"v":120},{"t":30.3,"v":115},{"t":32.2,"v":120},{"t":32.4,"v":118},{"t":34.1,"v":110},{"t":34.3,"v":118},{"t":35.1,"v":112},{"t":35.3,"v":115},{"t":38.1,"v":115},{"t":38.3,"v":110},{"t":39.1,"v":112},{"t":40.1,"v":115},{"t":40.3,"v":120},{"t":41.1,"v":110},{"t":41.3,"v":115},{"t":42.1,"v":118},{"t":43.1,"v":112},{"t":43.3,"v":108},{"t":44.1,"v":115},{"t":44.3,"v":120},{"t":45.1,"v":110},{"t":45.3,"v":112},{"t":46.1,"v":115},{"t":47.1,"v":112},{"t":47.3,"v":118},{"t":48.1,"v":115},{"t":49.1,"v":118},{"t":50.2,"v":120},{"t":51.1,"v":125},{"t":51.3,"v":120},{"t":52.1,"v":118},{"t":52.3,"v":125},{"t":53.1,"v":120}
    ]
  },
  "spacing": 13,
  "vconcat": [
    {
      "spacing": 25,
      "hconcat": [
        {
          "title": {"text": "(a) Delta 0-4Hz", "orient": "bottom", "anchor": "middle", "dx": 21, "font": "DejaVu Serif", "fontSize": 25, "fontWeight": "normal", "color": "#111111", "offset": 37},
          "vconcat": [{
            "title": {"text": "Delta 0-4Hz", "anchor": "middle", "font": "Liberation Sans", "fontSize": 11, "fontWeight": "bold", "offset": 4, "dx": 15},
            "width": 437, "height": 102,
            "layer": [
              {"data": {"name": "a"}, "mark": "point",
               "encoding": {
                 "x": {"field": "t", "type": "quantitative", "scale": {"domain": [-2.2, 54.05], "nice": false, "zero": false}, "axis": {"values": [0, 10, 20, 30, 40, 50], "title": "Tempo (minutos)", "titlePadding": 21}},
                 "y": {"field": "v", "type": "quantitative", "scale": {"domain": [-3, 230], "nice": false, "zero": false}, "axis": {"values": [0, 50, 100, 150, 200], "labelExpr": "datum.value == 150 ? '' : datum.label", "title": "Grau de Intermediação Médio"}}
               }},
              {"data": {"name": "cuts"}, "mark": "rule", "encoding": {"x": {"field": "t", "type": "quantitative"}}}
            ]
          }]
        },
        {
          "title": {"text": "(b) Teta 4-8Hz", "orient": "bottom", "anchor": "middle", "dx": 19, "font": "DejaVu Serif", "fontSize": 25, "fontWeight": "normal", "color": "#111111", "offset": 35},
          "vconcat": [{
            "title": {"text": "Teta 4-8Hz", "anchor": "middle", "font": "Liberation Sans", "fontSize": 11, "fontWeight": "bold", "offset": 0, "dx": 7},
            "width": 407, "height": 102,
            "layer": [
              {"data": {"name": "b"}, "mark": "point",
               "encoding": {
                 "x": {"field": "t", "type": "quantitative", "scale": {"domain": [-2, 53.9], "nice": false, "zero": false}, "axis": {"values": [0, 10, 20, 30, 40, 50], "title": "Tempo (minutos)", "titlePadding": 21}},
                 "y": {"field": "v", "type": "quantitative", "scale": {"domain": [11, 232], "nice": false, "zero": false}, "axis": {"values": [50, 100, 150, 200], "labelExpr": "datum.value == 150 ? '' : datum.label", "title": "Grau de Intermediação Médio"}}
               }},
              {"data": {"name": "cuts"}, "mark": "rule", "encoding": {"x": {"field": "t", "type": "quantitative"}}}
            ]
          }]
        }
      ]
    },
    {
      "spacing": 60,
      "vconcat": [
        {
          "spacing": 25,
          "hconcat": [
            {
              "title": {"text": "(c) Alfa 8-12Hz", "orient": "bottom", "anchor": "middle", "dx": 21, "font": "DejaVu Serif", "fontSize": 25, "fontWeight": "normal", "color": "#111111", "offset": 31},
              "vconcat": [{
                "title": {"text": "Alfa 8-12Hz", "anchor": "middle", "font": "Liberation Sans", "fontSize": 11, "fontWeight": "bold", "offset": 19, "dx": 15},
                "width": 437, "height": 103,
                "layer": [
                  {"data": {"name": "c"}, "mark": "point",
                   "encoding": {
                     "x": {"field": "t", "type": "quantitative", "scale": {"domain": [-2.3, 54.2], "nice": false, "zero": false}, "axis": {"values": [0, 10, 20, 30, 40, 50], "title": "Tempo (minutos)", "titlePadding": 17}},
                     "y": {"field": "v", "type": "quantitative", "scale": {"domain": [-4.5, 197], "nice": false, "zero": false}, "axis": {"values": [0, 50, 100, 150], "title": "Grau de Intermediação Médio"}}
                   }},
                  {"data": {"name": "cuts"}, "mark": "rule", "encoding": {"x": {"field": "t", "type": "quantitative"}}}
                ]
              }]
            },
            {
              "title": {"text": "(d) Beta 13-30Hz", "orient": "bottom", "anchor": "middle", "dx": 16, "font": "DejaVu Serif", "fontSize": 25, "fontWeight": "normal", "color": "#111111", "offset": 31},
              "vconcat": [{
                "title": {"text": "Beta 13-30Hz", "anchor": "middle", "font": "Liberation Sans", "fontSize": 11, "fontWeight": "bold", "offset": 9, "dx": 15},
                "width": 407, "height": 102,
                "layer": [
                  {"data": {"name": "d"}, "mark": "point",
                   "encoding": {
                     "x": {"field": "t", "type": "quantitative", "scale": {"domain": [-2, 53.9], "nice": false, "zero": false}, "axis": {"values": [0, 10, 20, 30, 40, 50], "title": "Tempo (minutos)", "titlePadding": 17}},
                     "y": {"field": "v", "type": "quantitative", "scale": {"domain": [-5, 225.6], "nice": false, "zero": false}, "axis": {"values": [0, 50, 100, 150, 200], "labelExpr": "datum.value == 150 ? '' : datum.label", "title": "Grau de Intermediação Médio"}}
                   }},
                  {"data": {"name": "cuts"}, "mark": "rule", "encoding": {"x": {"field": "t", "type": "quantitative"}}}
                ]
              }]
            }
          ]
        },
        {
          "title": {"text": "(e) Gama 25-100Hz", "orient": "bottom", "anchor": "middle", "dx": 19, "font": "DejaVu Serif", "fontSize": 25, "fontWeight": "normal", "color": "#111111", "offset": 35},
          "vconcat": [{
            "title": {"text": "Gama 25-100Hz", "anchor": "middle", "font": "Liberation Sans", "fontSize": 11, "fontWeight": "bold", "offset": -9, "dx": 10},
            "width": 437, "height": 102,
            "layer": [
              {"data": {"name": "e"}, "mark": "point",
               "encoding": {
                 "x": {"field": "t", "type": "quantitative", "scale": {"domain": [-2.2, 54.05], "nice": false, "zero": false}, "axis": {"values": [0, 10, 20, 30, 40, 50], "title": "Tempo (minutos)", "titlePadding": 17}},
                 "y": {"field": "v", "type": "quantitative", "scale": {"domain": [-4.7, 278], "nice": false, "zero": false}, "axis": {"values": [0, 50, 100, 150, 200, 250], "labelExpr": "datum.value == 100 || datum.value == 200 ? '' : datum.label", "title": "Grau de Intermediação Médio"}}
               }},
              {"data": {"name": "cuts"}, "mark": "rule", "encoding": {"x": {"field": "t", "type": "quantitative"}}}
            ]
          }]
        }
      ]
    }
  ]
}
